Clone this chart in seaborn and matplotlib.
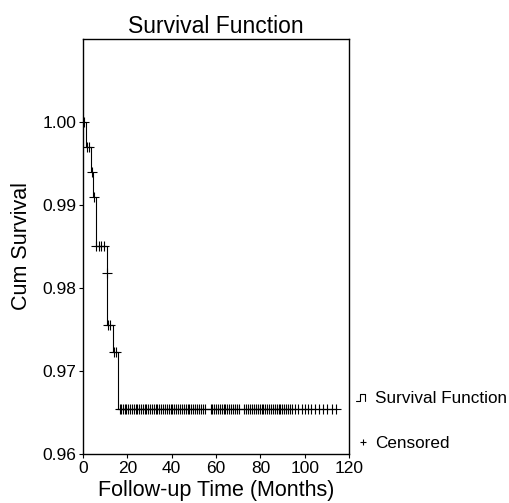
import numpy as np
import pandas as pd
import matplotlib
matplotlib.use("Agg")
import matplotlib.pyplot as plt
import seaborn as sns
from matplotlib.lines import Line2D
from matplotlib.legend_handler import HandlerBase

# step function: time at which each survival level starts
step_times = [0.0, 1.4, 3.4, 4.3, 5.7, 10.8, 11.0, 13.6, 15.9]
step_surv = [1.000, 0.9970, 0.9940, 0.9910, 0.9850, 0.9818, 0.9755, 0.9723, 0.9654]
end_time = 114.5

# censored follow-up times (months)
censor_times = [
    0.6, 1.9, 2.8, 3.9, 4.8, 6.1, 7.2, 8.2, 9.3, 10.9, 11.4, 12.3, 13.9, 14.8,
    16.5, 17.3, 18.0, 18.8, 19.6, 20.5, 21.2, 22.0, 22.9, 23.7, 24.4, 25.3,
    26.1, 27.0, 27.8, 28.6, 29.5, 30.3, 31.1, 32.0, 32.8, 33.5, 34.4, 35.2,
    36.1, 37.0, 37.8, 38.6, 39.5, 40.3, 41.0, 42.1, 43.0, 43.9, 44.6, 45.5,
    46.3, 47.2, 48.0, 48.9, 49.7, 50.5, 51.4, 52.2, 53.0, 54.1, 55.0, 57.5,
    58.3, 59.1, 60.0, 60.8, 61.7, 62.5, 63.4, 64.2, 65.0, 65.9, 66.8, 67.6,
    68.5, 69.4, 70.2, 72.8, 73.6, 74.5, 75.3, 76.1, 77.0, 77.9, 78.8, 79.6,
    80.5, 81.3, 82.2, 83.1, 84.0, 84.8, 85.6, 86.5, 87.4, 88.2, 89.0, 89.9,
    90.8, 91.6, 92.5, 93.3, 94.2, 95.4, 97.1, 98.6, 100.2, 101.5, 103.0,
    104.6, 106.3, 108.0, 110.1, 112.4, 114.0,
]

x_ticks = [0, 20, 40, 60, 80, 100, 120]
y_ticks = [0.96, 0.97, 0.98, 0.99, 1.00]

sns.set_style("ticks")
plt.rcParams["font.family"] = ["Liberation Sans", "DejaVu Sans"]
plt.rcParams["text.color"] = "black"
plt.rcParams["axes.labelcolor"] = "black"

curve = pd.DataFrame({"time": step_times + [end_time],
                      "surv": step_surv + [step_surv[-1]]})
idx = np.searchsorted(step_times, censor_times, side="right") - 1
cens = pd.DataFrame({"time": censor_times,
                     "surv": np.array(step_surv)[idx]})


class StepHandler(HandlerBase):
    def create_artists(self, legend, orig_handle, xd, yd, width, height,
                       fontsize, trans):
        xs = np.array([0.0, 0.3, 0.3, 0.65, 0.65]) * width - xd
        ys = np.array([0.2, 0.2, 0.75, 0.75, 0.2]) * height - yd
        return [Line2D(xs, ys, color="black", lw=0.8, transform=trans)]


fig = plt.figure(figsize=(5.09, 5.03), dpi=100)
ax = fig.add_axes([0.163, 0.0974, 0.523, 0.8251])

sns.lineplot(data=curve, x="time", y="surv", drawstyle="steps-post",
             color="black", lw=0.8, ax=ax)
sns.scatterplot(data=cens, x="time", y="surv", marker="+", color="black",
                s=45, linewidth=0.8, ax=ax)

ax.set_xlim(0, 120)
ax.set_ylim(0.96, 1.01)
ax.set_xticks(x_ticks)
ax.set_yticks(y_ticks)
ax.set_yticklabels([f"{v:.2f}" for v in y_ticks])
ax.tick_params(direction="out", length=3, width=0.8, labelsize=12.5,
               colors="black", pad=2)
for sp in ax.spines.values():
    sp.set_linewidth(1.0)
    sp.set_color("black")

ax.set_title("Survival Function", fontsize=16.5, pad=4, color="black")
ax.set_xlabel("Follow-up Time (Months)", fontsize=15.5, labelpad=3)
ax.set_ylabel("Cum Survival", fontsize=15.5, labelpad=7)

handles = [Line2D([], [], color="black", lw=0.8),
           Line2D([], [], marker="+", ls="none", color="black",
                  markersize=5, markeredgewidth=0.8)]
leg = ax.legend(handles, ["Survival Function", "Censored"],
                handler_map={handles[0]: StepHandler()},
                loc="center left", bbox_to_anchor=(0.699, 0.163),
                bbox_transform=fig.transFigure, frameon=False, fontsize=12.3,
                borderpad=0, borderaxespad=0, handlelength=0.8,
                handletextpad=0.35, labelspacing=1.75)
for t in leg.get_texts():
    t.set_color("black")

fig.savefig("out.png", dpi=100)
